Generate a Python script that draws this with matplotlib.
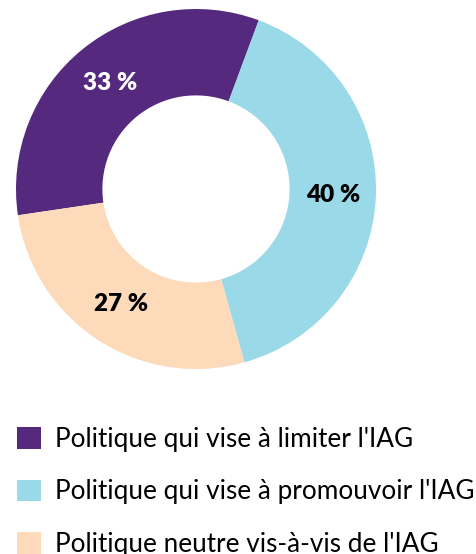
import matplotlib as mpl
mpl.use("Agg")
import matplotlib.pyplot as plt

labels = ["Politique qui vise à limiter l'IAG",
          "Politique qui vise à promouvoir l'IAG",
          "Politique neutre vis-à-vis de l'IAG"]
shares = [33, 40, 27]
colors = ["#55297e", "#9ad9e7", "#fddaba"]
label_colors = ["white", "black", "black"]

plt.rcParams["font.family"] = ["Lato", "DejaVu Sans"]

W, H = 477, 554
fig = plt.figure(figsize=(W / 100, H / 100), dpi=100)

# donut axes: centre (196,189) px, radius 180 px
cx, cy, r = 196, 189, 180
ax = fig.add_axes([(cx - r) / W, 1 - (cy + r) / H, 2 * r / W, 2 * r / H])

wedges, texts, autotexts = ax.pie(
    shares, colors=colors, startangle=188.4, counterclock=False,
    radius=1, wedgeprops=dict(width=0.48, linewidth=0),
    autopct=lambda p: f"{p:.0f} %", pctdistance=0.76,
    textprops=dict(fontsize=17.5, fontweight="heavy"))
for t, c in zip(autotexts, label_colors):
    t.set_color(c)
ax.set_xlim(-1, 1)
ax.set_ylim(-1, 1)
ax.set_aspect("equal")
ax.axis("off")

fig.legend(wedges, labels, loc="upper left",
           bbox_to_anchor=(17 / W, 1 - 427 / H), borderaxespad=0,
           borderpad=0, frameon=False, fontsize=18.8,
           handlelength=0.9, handleheight=0.9, handletextpad=0.55,
           labelspacing=1.05)

fig.savefig("out.png", dpi=100, facecolor="white")
